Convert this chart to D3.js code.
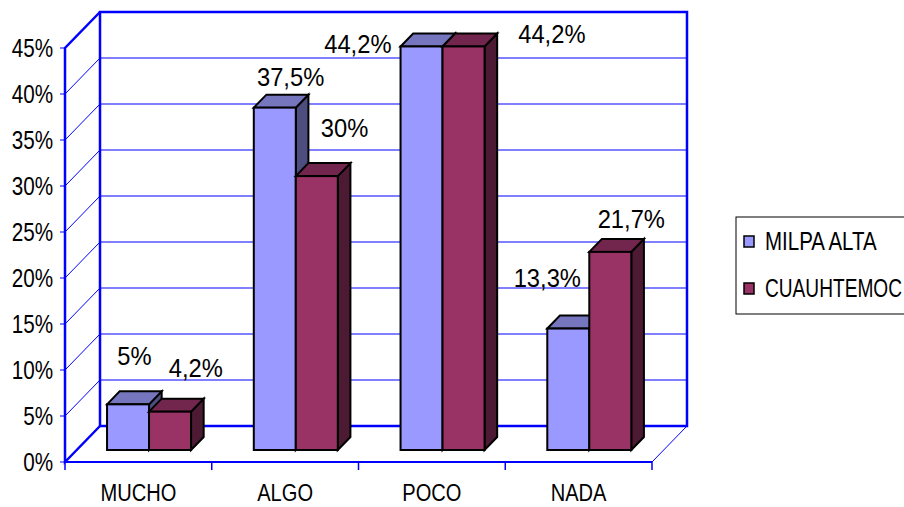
<!DOCTYPE html>
<html><head><meta charset="utf-8">
<script src="https://cdn.jsdelivr.net/npm/d3@7"></script>
<style>body{margin:0;background:#fff;} svg{display:block;}</style>
</head><body><svg id="chart" width="904" height="507"></svg>
<script>
// ---- data ----
const categories = ["MUCHO", "ALGO", "POCO", "NADA"];
const seriesNames = ["MILPA ALTA", "CUAUHTEMOC"];
const milpaAlta = [5, 37.5, 44.2, 13.3];
const cuauhtemoc = [4.2, 30, 44.2, 21.7];
const milpaLabels = ["5%", "37,5%", "44,2%", "13,3%"];
const cuauhLabels = ["4,2%", "30%", "44,2%", "21,7%"];
const yTicks = [0, 5, 10, 15, 20, 25, 30, 35, 40, 45];
const yTickLabels = ["0%", "5%", "10%", "15%", "20%", "25%", "30%", "35%", "40%", "45%"];

// ---- layout / style (not data) ----
const labelNudge = [
  [[6.3, -39.4], [15.8, -21.6], [-63.7, 6.5], [-21, -41.6]],
  [[25.8, -34.7], [27.8, -39.1], [88.3, -3.5], [21, -23.9]]
];
const colors = [
  {front: "#9999FF", top: "#7676BF", side: "#4D4D80"},
  {front: "#993366", top: "#73264D", side: "#4C1A33"}
];
const BLUE = "#0000FF";
const DX = 35, DY = 36;           // depth of the 3D box
const F0 = 1 / 3, F1 = 0.694;     // bar front/back depth fractions
const FONT = "'Liberation Sans', Arial, sans-serif";

const svg = d3.select("#chart");
const y = d3.scaleLinear().domain([0, 45]).range([462, 48]);
const x = d3.scaleBand().domain(categories).range([65, 652]).padding(0);
const groupW = 84;
const xi = d3.scaleBand().domain(seriesNames).range([0, groupW]).padding(0);
const barFrontZero = y(0) - DY * F0;
const yBar = d3.scaleLinear().domain([0, 45]).range([barFrontZero, barFrontZero - 45 * 9.13]);
const bdx = DX * (F1 - F0), bdy = 13;

function narrowText(g, tx, ty, str, size, sx, anchor) {
  return g.append("text")
    .attr("transform", `translate(${tx},${ty}) scale(${sx},1)`)
    .attr("text-anchor", anchor)
    .attr("font-family", FONT)
    .attr("font-size", size)
    .attr("fill", "#000")
    .text(str);
}

const walls = svg.append("g");
// back wall gridlines + left wall slanted gridlines
yTicks.filter(t => t > 0 && t < 45).forEach(t => {
  walls.append("line").attr("x1", 65 + DX).attr("x2", 652 + DX)
    .attr("y1", y(t) - DY).attr("y2", y(t) - DY)
    .attr("stroke", BLUE).attr("stroke-width", 1);
  walls.append("line").attr("x1", 65).attr("x2", 65 + DX)
    .attr("y1", y(t)).attr("y2", y(t) - DY)
    .attr("stroke", BLUE).attr("stroke-width", 1);
});
// right floor slant (thin)
walls.append("line").attr("x1", 652).attr("y1", y(0)).attr("x2", 652 + DX).attr("y2", y(0) - DY)
  .attr("stroke", BLUE).attr("stroke-width", 1);
// front floor line
walls.append("line").attr("x1", 65).attr("y1", y(0)).attr("x2", 652).attr("y2", y(0))
  .attr("stroke", BLUE).attr("stroke-width", 2);
// back wall border
walls.append("rect").attr("x", 65 + DX).attr("y", y(45) - DY)
  .attr("width", 652 - 65).attr("height", y(0) - y(45))
  .attr("fill", "none").attr("stroke", BLUE).attr("stroke-width", 2.5);
// left wall edges
walls.append("path")
  .attr("d", `M${65 + DX},${y(45) - DY} L65,${y(45)} L65,${y(0)} L${65 + DX},${y(0) - DY}`)
  .attr("fill", "none").attr("stroke", BLUE).attr("stroke-width", 2.5);
// y ticks
yTicks.forEach((t, i) => {
  walls.append("line").attr("x1", 60).attr("x2", 65).attr("y1", y(t)).attr("y2", y(t))
    .attr("stroke", BLUE).attr("stroke-width", 1);
  narrowText(walls, 53, y(t) + 9, yTickLabels[i], 25.5, 0.81, "end");
});
// category ticks + labels
const catEdges = categories.map(c => x(c)).concat([652]);
catEdges.forEach(cx => {
  walls.append("line").attr("x1", cx).attr("x2", cx).attr("y1", y(0)).attr("y2", y(0) + 8)
    .attr("stroke", BLUE).attr("stroke-width", 1.5);
});
categories.forEach(c => {
  narrowText(walls, x(c) + x.bandwidth() / 2, 501, c, 24.5, 0.82, "middle");
});

// bars
const series = [milpaAlta, cuauhtemoc];
const labelsArr = [milpaLabels, cuauhLabels];
const bars = svg.append("g");
const barInfo = [];
categories.forEach((c, ci) => {
  series.forEach((vals, si) => {
    const v = vals[ci];
    const x0 = x(c) + (x.bandwidth() - groupW) / 2 - 1 + xi(seriesNames[si]) + DX * F0;
    const w = xi.bandwidth();
    const yt = yBar(v), yb = yBar(0);
    const col = colors[si];
    const g = bars.append("g").attr("stroke", "#000").attr("stroke-width", 2).attr("stroke-linejoin", "miter");
    g.append("path").attr("fill", col.side)
      .attr("d", `M${x0 + w},${yt} L${x0 + w + bdx},${yt - bdy} L${x0 + w + bdx},${yb - bdy} L${x0 + w},${yb} Z`);
    g.append("path").attr("fill", col.top)
      .attr("d", `M${x0},${yt} L${x0 + bdx},${yt - bdy} L${x0 + w + bdx},${yt - bdy} L${x0 + w},${yt} Z`);
    g.append("rect").attr("x", x0).attr("y", yt).attr("width", w).attr("height", yb - yt).attr("fill", col.front);
    barInfo.push({si, ci, cx: x0 + w / 2, yt});
  });
});
// data labels
barInfo.forEach(b => {
  const n = labelNudge[b.si][b.ci];
  narrowText(svg, b.cx + n[0], b.yt + n[1], labelsArr[b.si][b.ci], 25, 0.95, "middle");
});

// legend
const lg = svg.append("g");
lg.append("rect").attr("x", 736).attr("y", 217).attr("width", 200).attr("height", 97)
  .attr("fill", "#fff").attr("stroke", "#000").attr("stroke-width", 1);
seriesNames.forEach((s, i) => {
  const ly = 241 + i * 47;
  lg.append("rect").attr("x", 744).attr("y", ly - 5).attr("width", 10).attr("height", 11)
    .attr("fill", colors[i].front).attr("stroke", "#000").attr("stroke-width", 1.5);
  const t = narrowText(lg, 765, ly + 9, s, 25, 0.82, "start");
  // keep the text inside the 904px canvas
  const len = t.node().getComputedTextLength();
  const maxW = 904 - 765 - 2;
  if (len * 0.82 > maxW) t.attr("transform", `translate(765,${ly + 9}) scale(${maxW / len},1)`);
});
</script>
</body></html>
